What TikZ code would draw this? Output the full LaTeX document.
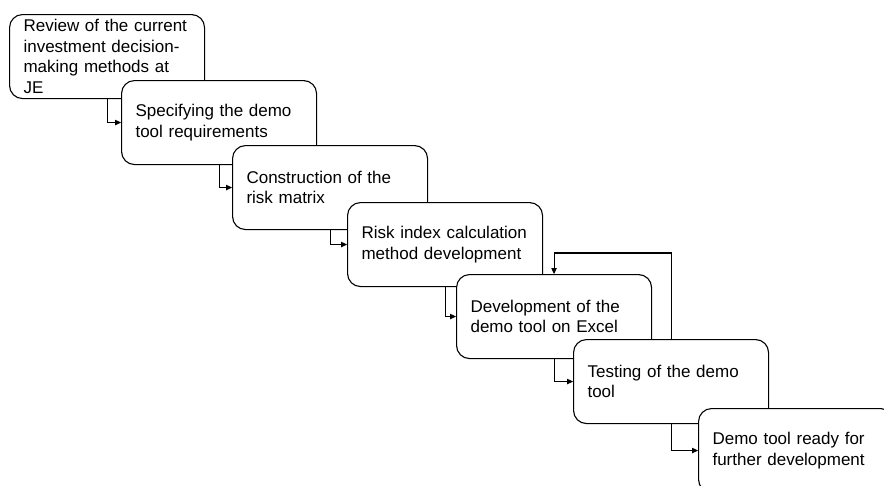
\documentclass[tikz,border=0pt]{standalone}
\usepackage{fontspec}
\setmainfont{Liberation Sans}
\usetikzlibrary{arrows.meta}
\begin{document}
\begin{tikzpicture}[x=1pt,y=-1pt,
  stage/.style={draw=black, line width=1.1pt, fill=white, rounded corners=13pt,
    anchor=north west, text width=167pt, inner xsep=14pt, inner ysep=0pt,
    minimum height=84pt, align=left,
    font=\fontsize{17}{20.7}\selectfont},
  arr/.style={draw=black, line width=1.1pt,
    -{Triangle[length=6pt,width=5.5pt]}}]
\clip (0,0) rectangle (884,485);
\fill[white] (0,0) rectangle (884,485);

% staircase of process stages
\node[stage] (b1) at (9,14)   {Review of the current\\investment decision-\\making methods at\\JE};
\node[stage] (b2) at (121,80) {Specifying the demo\\tool requirements};
\node[stage] (b3) at (232,145){Construction of the\\risk matrix};
\node[stage] (b4) at (347,202){Risk index calculation\\method development};
\node[stage] (b5) at (456,274){Development of the\\demo tool on Excel};
\node[stage] (b6) at (573,339){Testing of the demo\\tool};
\node[stage] (b7) at (698,408){Demo tool ready for\\further development};

% step-down connectors
\draw[arr] (b1.south) |- (b2.west);
\draw[arr] (b2.south) |- (b3.west);
\draw[arr] (b3.south) |- (b4.west);
\draw[arr] (b4.south) |- (b5.west);
\draw[arr] (b5.south) |- (b6.west);
\draw[arr] (b6.south) |- (b7.west);

% feedback loop from testing back to development
\draw[arr] (b6.north) -- ++(0,-86) -| (b5.north);
\end{tikzpicture}
\end{document}
